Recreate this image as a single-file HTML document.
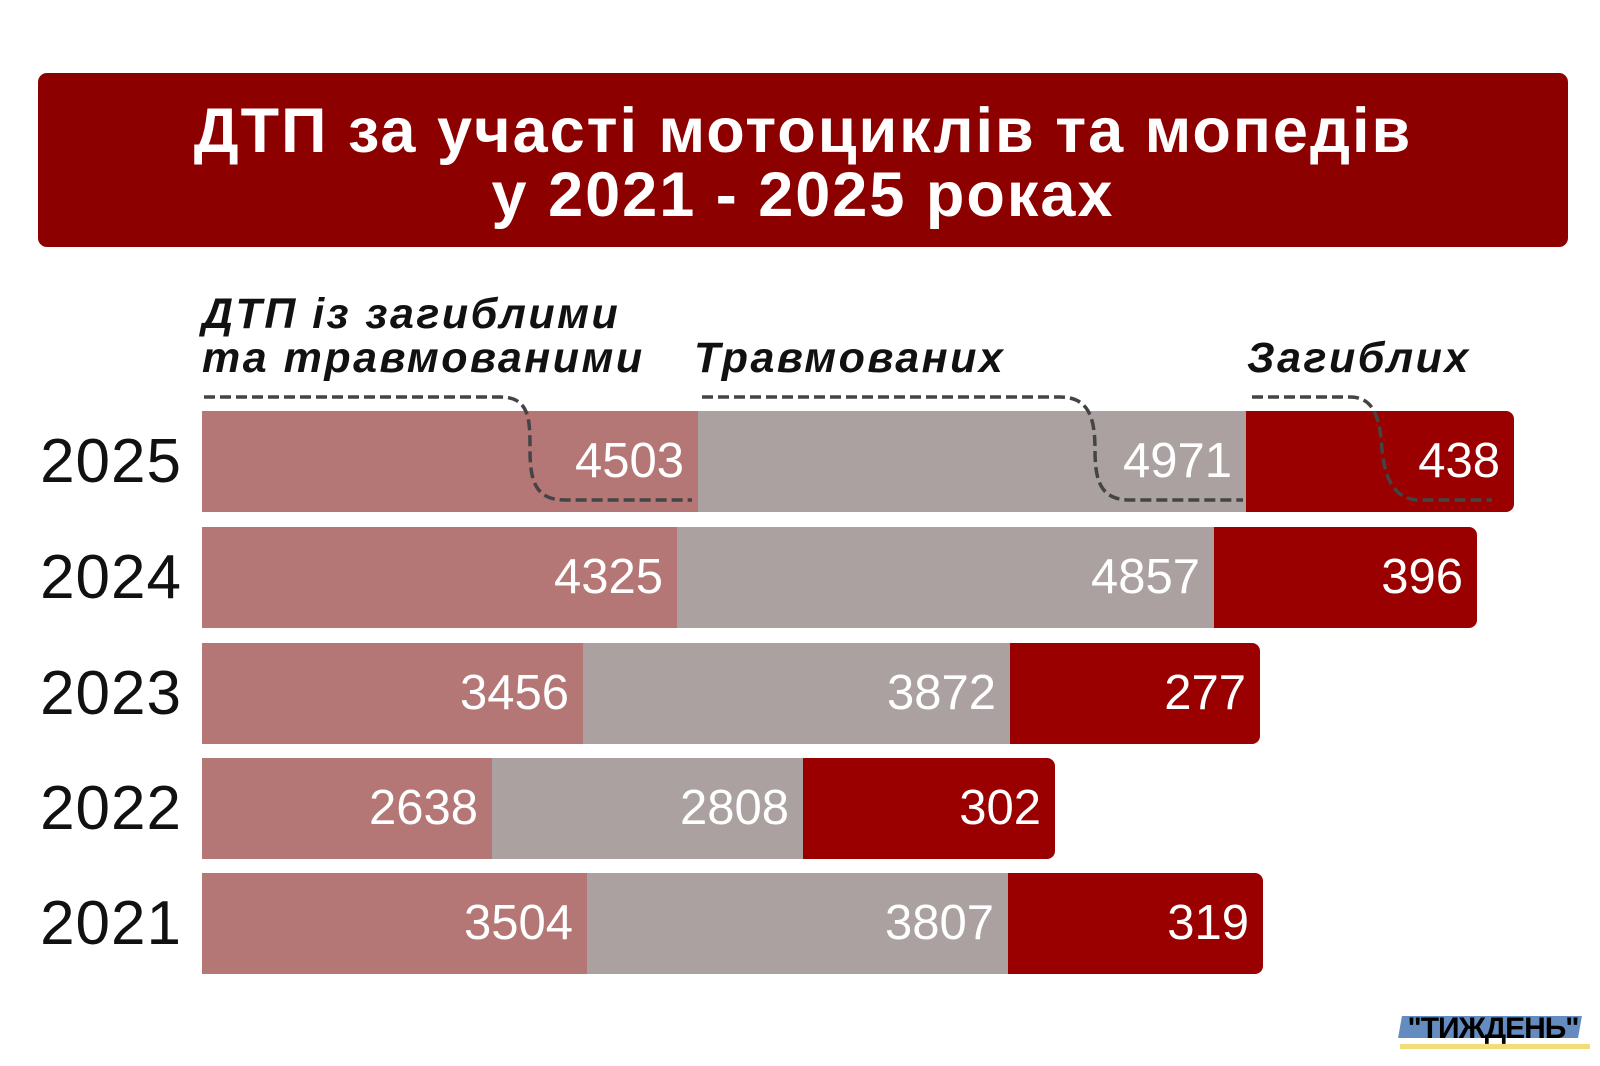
<!DOCTYPE html>
<html><head><meta charset="utf-8"><style>
body{margin:0;width:1600px;height:1066px;background:#fff;overflow:hidden;position:relative;font-family:"Liberation Sans","DejaVu Sans",sans-serif}
.t{position:absolute;left:38px;top:73px;width:1530px;height:174px;background:#8c0000;border-radius:9px;color:#fff;font-weight:bold;font-size:63px;letter-spacing:2px;text-align:center;line-height:64px;box-sizing:border-box;padding-top:26px}
.yr{position:absolute;left:0;width:182px;text-align:right;font-size:62px;letter-spacing:1px;color:#111;line-height:101px}
.seg{position:absolute;height:101px;color:#fff;font-size:49px;line-height:101px;text-align:right;box-sizing:border-box;padding-right:14px}
.a{background:#b57676}.b{background:#aca1a1}.c{background:#9a0000;border-radius:0 8px 8px 0}
.lg{position:absolute;font-weight:bold;font-style:italic;font-size:43px;letter-spacing:2.5px;color:#111;line-height:44px}
</style></head><body>
<div class="t">ДТП за участі мотоциклів та мопедів<br>у 2021 - 2025 роках</div>
<div class="lg" style="left:202px;top:292px">ДТП із загиблими<br>та травмованими</div>
<div class="lg" style="left:694px;top:336px">Травмованих</div>
<div class="lg" style="left:1247px;top:336px">Загиблих</div>

<div class="yr" style="top:411px">2025</div>
<div class="seg a" style="top:411px;left:202px;width:496px">4503</div>
<div class="seg b" style="top:411px;left:698px;width:548px">4971</div>
<div class="seg c" style="top:411px;left:1246px;width:268px">438</div>

<div class="yr" style="top:527px">2024</div>
<div class="seg a" style="top:527px;left:202px;width:475px">4325</div>
<div class="seg b" style="top:527px;left:677px;width:537px">4857</div>
<div class="seg c" style="top:527px;left:1214px;width:263px">396</div>

<div class="yr" style="top:643px">2023</div>
<div class="seg a" style="top:643px;left:202px;width:381px">3456</div>
<div class="seg b" style="top:643px;left:583px;width:427px">3872</div>
<div class="seg c" style="top:643px;left:1010px;width:250px">277</div>

<div class="yr" style="top:758px">2022</div>
<div class="seg a" style="top:758px;left:202px;width:290px">2638</div>
<div class="seg b" style="top:758px;left:492px;width:311px">2808</div>
<div class="seg c" style="top:758px;left:803px;width:252px">302</div>

<div class="yr" style="top:873px">2021</div>
<div class="seg a" style="top:873px;left:202px;width:385px">3504</div>
<div class="seg b" style="top:873px;left:587px;width:421px">3807</div>
<div class="seg c" style="top:873px;left:1008px;width:255px">319</div>

<svg width="1600" height="1066" style="position:absolute;left:0;top:0" fill="none" stroke="#444" stroke-width="3.5" stroke-dasharray="11,5">
<path d="M204 397 H500 C530 397 530 420 530 450 C530 480 535 500 565 500 H692"/>
<path d="M702 397 H1060 C1090 397 1095 420 1095 450 C1095 480 1100 500 1130 500 H1243"/>
<path d="M1252 397 H1350 C1375 397 1380 420 1382 450 C1385 480 1395 500 1420 500 H1492"/>
</svg>

<div style="position:absolute;left:1400px;top:1016px;width:180px;height:22px;background:#4a78b5;opacity:.85;transform:skewX(-10deg)"></div>
<div style="position:absolute;left:1398px;top:1012px;width:190px;text-align:center;font-weight:bold;font-size:30px;color:#000;line-height:34px;letter-spacing:-1px">"ТИЖДЕНЬ"</div>
<div style="position:absolute;left:1400px;top:1044px;width:190px;height:5px;background:#e8c820;opacity:.6"></div>
</body></html>
